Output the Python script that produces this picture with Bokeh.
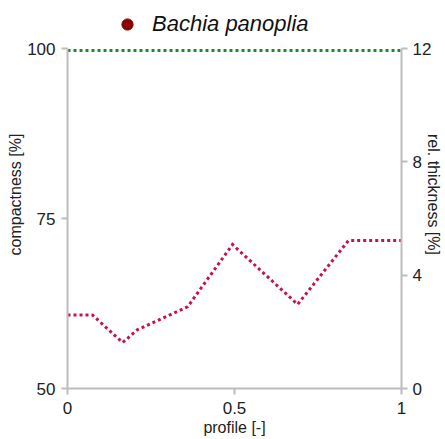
from bokeh.plotting import figure
from bokeh.models import Range1d, LinearAxis, FixedTicker, Legend, LegendItem
from bokeh.embed import file_html
from bokeh.resources import INLINE

# profile positions along the body (0 = start, 1 = end)
profile = [0.0, 0.075, 0.165, 0.21, 0.36, 0.494, 0.689, 0.841, 1.0]
# relative thickness along the profile [%]
rel_thickness = [2.59, 2.59, 1.62, 2.08, 2.89, 5.08, 2.97, 5.22, 5.22]
# compactness along the profile [%]
compact_x = [0.0, 1.0]
compactness = [99.7, 99.7]

species = "Bachia panoplia"

x_ticks = [0, 0.5, 1]
left_ticks = [50, 75, 100]
right_ticks = [0, 4, 8, 12]

FONT = "Liberation Sans"
AXIS_GREY = "#bdbdbd"
RED = "#c8104c"
GREEN = "#1f8a2a"

FRAME_H = 388          # frame runs from the top of the page down to the x axis
AXIS_H = 340           # drawn part of the y axes
headroom = FRAME_H / AXIS_H  # extra range above the axes holds the species key

p = figure(width=445, height=439, output_backend="svg", toolbar_location=None,
           x_range=Range1d(0, 1),
           y_range=Range1d(50, 50 + 50 * headroom),
           min_border_left=67, min_border_right=44, min_border_top=0, min_border_bottom=51,
           x_axis_location="below", y_axis_location="left")
p.extra_y_ranges = {"thick": Range1d(0, 12 * headroom)}

p.outline_line_color = None
p.xgrid.visible = False
p.ygrid.visible = False
p.background_fill_color = "white"
p.border_fill_color = "white"


def style_axis(ax):
    ax.axis_line_color = AXIS_GREY
    ax.axis_line_width = 2
    ax.major_tick_line_color = AXIS_GREY
    ax.major_tick_line_width = 2
    ax.major_tick_in = 0
    ax.major_tick_out = 6
    ax.minor_tick_line_color = None
    ax.major_label_text_font = FONT
    ax.major_label_text_font_size = "17px"
    ax.major_label_text_color = "#222222"
    ax.axis_label_text_font = FONT
    ax.axis_label_text_font_size = "16px"
    ax.axis_label_text_font_style = "normal"
    ax.axis_label_text_color = "#222222"


xa = p.xaxis[0]
style_axis(xa)
xa.ticker = FixedTicker(ticks=x_ticks)
xa.major_label_overrides = {0: "0", 0.5: "0.5", 1: "1"}
xa.axis_label = "profile [-]"
xa.major_label_standoff = 7
xa.axis_label_standoff = 2

ya = p.yaxis[0]
style_axis(ya)
ya.ticker = FixedTicker(ticks=left_ticks)
ya.bounds = (50, 100)
ya.axis_label = "compactness [%]"
ya.major_label_standoff = 6
ya.axis_label_standoff = 0

ra = LinearAxis(y_range_name="thick", ticker=FixedTicker(ticks=right_ticks),
                axis_label="rel. thickness [%]", bounds=(0, 12))
style_axis(ra)
ra.major_label_standoff = 5
ra.axis_label_standoff = -9
p.add_layout(ra, "right")

p.line(compact_x, compactness, line_color=GREEN, line_width=3,
       line_dash="3 3", line_cap="butt")
p.line(profile, rel_thickness, y_range_name="thick", line_color=RED,
       line_width=3, line_dash="3 3", line_cap="butt", line_join="miter")

# legend proxy: a marker with no visible position, used only for the key
marker = p.scatter([float("nan")], [float("nan")], size=11,
                   fill_color="#8b0000", line_color="#8b0000")

legend = Legend(items=[LegendItem(label=species, renderers=[marker])],
                location=(46, 350), padding=0, margin=0, spacing=0,
                glyph_width=28, glyph_height=28, label_standoff=11,
                label_text_font=FONT, label_text_font_style="italic",
                label_text_font_size="22px", label_text_color="#111111",
                border_line_color=None, background_fill_alpha=0)
p.add_layout(legend, "center")

open("out.html", "w").write(file_html(p, INLINE))
